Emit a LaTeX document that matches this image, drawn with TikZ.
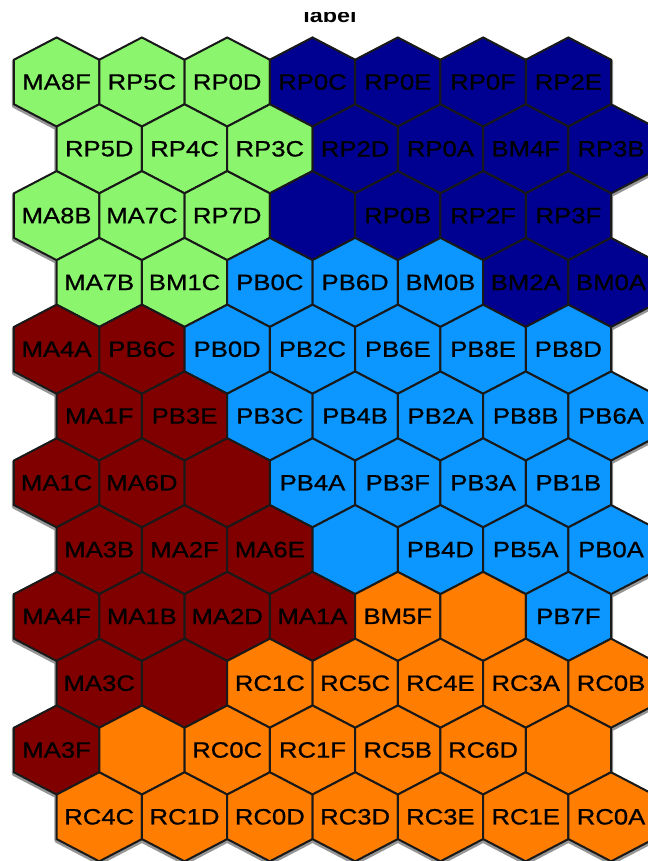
\documentclass[tikz,border=0pt]{standalone}
\usepackage{fontspec}
\newfontfamily\cellfam[FakeStretch=1.16,FakeBold=0.8]{Liberation Sans}
\newfontfamily\titlefam[FakeStretch=1.2]{Liberation Sans}
\definecolor{cg}{RGB}{140,245,110}
\definecolor{cn}{RGB}{0,0,145}
\definecolor{cb}{RGB}{12,150,255}
\definecolor{cr}{RGB}{128,0,0}
\definecolor{co}{RGB}{255,125,0}
\definecolor{edge}{RGB}{25,25,25}
\definecolor{shade}{RGB}{150,150,150}
\tikzset{
  hexcell/.style={draw=edge, line width=1.5pt, line join=miter},
  hexshadow/.style={draw=shade, line width=3.2pt, line join=round},
  celltext/.style={font=\cellfam\fontsize{16.6}{16}\selectfont, text=black, inner sep=0pt, anchor=center},
  titletext/.style={font=\titlefam\bfseries\fontsize{14.6}{15}\selectfont, text=black, inner sep=0pt, anchor=base}
}
\def\celllist{1/1/cg/MA8F, 1/2/cg/RP5C, 1/3/cg/RP0D, 1/4/cn/RP0C, 1/5/cn/RP0E, 1/6/cn/RP0F, 1/7/cn/RP2E,
2/1/cg/RP5D, 2/2/cg/RP4C, 2/3/cg/RP3C, 2/4/cn/RP2D, 2/5/cn/RP0A, 2/6/cn/BM4F, 2/7/cn/RP3B,
3/1/cg/MA8B, 3/2/cg/MA7C, 3/3/cg/RP7D, 3/4/cn/{}, 3/5/cn/RP0B, 3/6/cn/RP2F, 3/7/cn/RP3F,
4/1/cg/MA7B, 4/2/cg/BM1C, 4/3/cb/PB0C, 4/4/cb/PB6D, 4/5/cb/BM0B, 4/6/cn/BM2A, 4/7/cn/BM0A,
5/1/cr/MA4A, 5/2/cr/PB6C, 5/3/cb/PB0D, 5/4/cb/PB2C, 5/5/cb/PB6E, 5/6/cb/PB8E, 5/7/cb/PB8D,
6/1/cr/MA1F, 6/2/cr/PB3E, 6/3/cb/PB3C, 6/4/cb/PB4B, 6/5/cb/PB2A, 6/6/cb/PB8B, 6/7/cb/PB6A,
7/1/cr/MA1C, 7/2/cr/MA6D, 7/3/cr/{}, 7/4/cb/PB4A, 7/5/cb/PB3F, 7/6/cb/PB3A, 7/7/cb/PB1B,
8/1/cr/MA3B, 8/2/cr/MA2F, 8/3/cr/MA6E, 8/4/cb/{}, 8/5/cb/PB4D, 8/6/cb/PB5A, 8/7/cb/PB0A,
9/1/cr/MA4F, 9/2/cr/MA1B, 9/3/cr/MA2D, 9/4/cr/MA1A, 9/5/co/BM5F, 9/6/co/{}, 9/7/cb/PB7F,
10/1/cr/MA3C, 10/2/cr/{}, 10/3/co/RC1C, 10/4/co/RC5C, 10/5/co/RC4E, 10/6/co/RC3A, 10/7/co/RC0B,
11/1/cr/MA3F, 11/2/co/{}, 11/3/co/RC0C, 11/4/co/RC1F, 11/5/co/RC5B, 11/6/co/RC6D, 11/7/co/{},
12/1/co/RC4C, 12/2/co/RC1D, 12/3/co/RC0D, 12/4/co/RC3D, 12/5/co/RC3E, 12/6/co/RC1E, 12/7/co/RC0A}
\begin{document}
\begin{tikzpicture}[x=0.75pt,y=-0.75pt]
\useasboundingbox (0,0) rectangle (648,861);
\fill[white] (0,0) rectangle (648,861);
\clip (0,0) rectangle (648,861);
\def\hw{42.65}
\def\vv{44.53}
\def\ss{22.27}
% shadows
\foreach \r/\c/\col/\lab in \celllist {
  \pgfmathsetmacro\cx{56.6+(\c-1)*85.3+mod(\r-1,2)*42.65}
  \pgfmathsetmacro\cy{82+(\r-1)*66.8+1.6}
  \draw[hexshadow, shift={(\cx,\cy)}] (0,-\vv) -- (\hw,-\ss) -- (\hw,\ss) -- (0,\vv) -- (-\hw,\ss) -- (-\hw,-\ss) -- cycle;
}
% cells
\foreach \r/\c/\col/\lab in \celllist {
  \pgfmathsetmacro\cx{56.6+(\c-1)*85.3+mod(\r-1,2)*42.65}
  \pgfmathsetmacro\cy{82+(\r-1)*66.8}
  \filldraw[hexcell, fill=\col, shift={(\cx,\cy)}] (0,-\vv) -- (\hw,-\ss) -- (\hw,\ss) -- (0,\vv) -- (-\hw,\ss) -- (-\hw,-\ss) -- cycle;
}
% labels
\foreach \r/\c/\col/\lab in \celllist {
  \pgfmathsetmacro\cx{56.6+(\c-1)*85.3+mod(\r-1,2)*42.65}
  \pgfmathsetmacro\cy{82+(\r-1)*66.8}
  \node[celltext] (cell-\r-\c) at (\cx,\cy) {\lab};
}
% title
\begin{scope}
\clip (200,12) rectangle (460,40);
\node[titletext] (title) at (330,22) {label};
\end{scope}
\end{tikzpicture}
\end{document}
